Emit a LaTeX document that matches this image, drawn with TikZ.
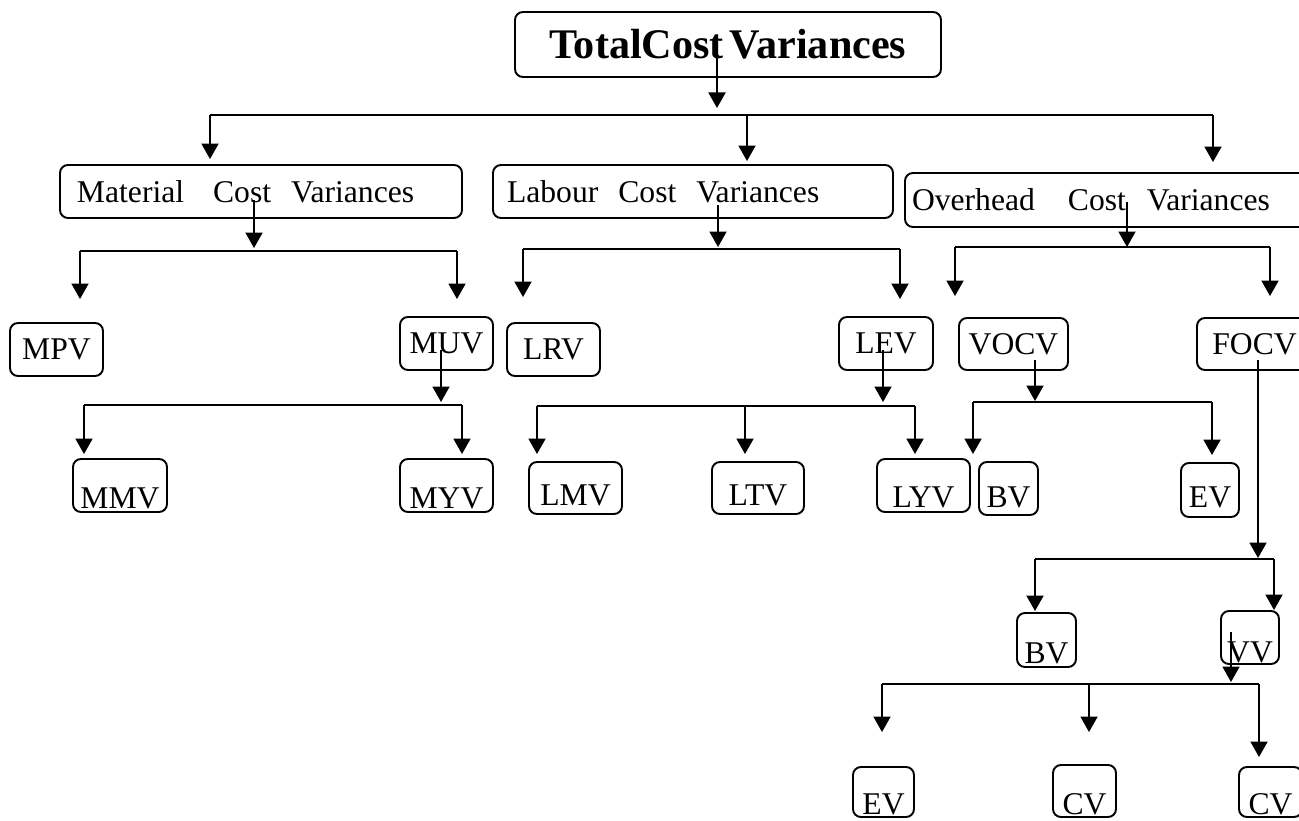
\documentclass[tikz,border=0pt]{standalone}
\usepackage{fontspec}
\setmainfont{Liberation Serif}
\usetikzlibrary{arrows.meta}
\tikzset{
  box/.style={draw, rounded corners=1.6mm, line width=1.1pt, inner sep=0pt, font=\fontsize{18}{20}\selectfont},
  cbox/.style={box, minimum height=10.6mm},
  lowbox/.style 2 args={box, text depth=0pt, inner ysep=#1, text height=#2},
  widebox/.style={box, align=left, minimum height=10.6mm},
}
\begin{document}
\begin{tikzpicture}[x=0.2mm, y=-0.2mm, line width=1.1pt, >={Triangle[width=3.4mm,length=3.1mm]}]
\useasboundingbox (0,0) rectangle (1299,821);

% top level
\node[box, minimum width=85.2mm, minimum height=13mm, font=\bfseries\fontsize{24}{28}\selectfont] (top) at (728,44.5) {TotalCost\hspace{1.2mm}Variances};
\node[widebox, text width=73.6mm, inner xsep=3.4mm] (mat) at (261,191.5) {Material\hspace{5.8mm}Cost\hspace{4mm}Variances};
\node[widebox, text width=74.4mm, inner xsep=2.8mm] (lab) at (693,191.5) {Labour\hspace{4mm}Cost\hspace{4mm}Variances};
\node[widebox, text width=80.2mm, inner xsep=1.4mm, minimum height=10.8mm] (ovh) at (1112.5,200) {Overhead\hspace{6.6mm}Cost\hspace{4.2mm}Variances};

% second row
\node[cbox, minimum width=18.6mm] (mpv) at (56.5,349.5) {MPV};
\node[cbox, minimum width=18.6mm] (muv) at (446.5,343.5) {MUV};
\node[cbox, minimum width=18.6mm] (lrv) at (553.5,349.5) {LRV};
\node[cbox, minimum width=18.8mm] (lev) at (886,343.5) {LEV};
\node[cbox, minimum width=21.8mm, minimum height=10.4mm] (vocv) at (1013.5,344) {VOCV};
\node[cbox, minimum width=23mm, minimum height=10.4mm] (focv) at (1254.5,344) {FOCV};

% third row
\node[lowbox={0.8mm}{9mm}, minimum width=18.8mm] (mmv) at (120,485.5) {MMV};
\node[lowbox={0.8mm}{9mm}, minimum width=18.6mm] (myv) at (446.5,485.5) {MYV};
\node[lowbox={1.8mm}{6.8mm}, minimum width=18.6mm] (lmv) at (575.5,488) {LMV};
\node[lowbox={1.8mm}{6.8mm}, minimum width=18.4mm] (ltv) at (758,488) {LTV};
\node[lowbox={1mm}{8.6mm}, minimum width=18.6mm] (lyv) at (923.5,485.5) {LYV};
\node[lowbox={1.6mm}{7.4mm}, minimum width=11.8mm] (bv) at (1008.5,488.5) {BV};
\node[lowbox={2mm}{6.8mm}, minimum width=11.6mm] (ev) at (1210,490) {EV};

% fixed overhead
\node[lowbox={0.8mm}{9.2mm}, minimum width=11.8mm] (bv2) at (1046.5,640) {BV};
\node[lowbox={0.4mm}{9.8mm}, minimum width=11.6mm] (vv) at (1250,637.5) {VV};
\node[lowbox={0.5mm}{9mm}, minimum width=12.2mm] (ev2) at (883.5,792) {EV};
\node[lowbox={0.5mm}{9.4mm}, minimum width=12.6mm] (cv1) at (1084.5,791) {CV};
\node[lowbox={0.5mm}{9mm}, minimum width=12.6mm] (cv2) at (1270.5,792) {CV};

% where the arrows leave each box
\coordinate (tout) at (717,58);
\coordinate (mout) at (254,200);
\coordinate (lout) at (718,205);
\coordinate (oout) at (1127,202);
\coordinate (uout) at (441,350);
\coordinate (eout) at (883,350);
\coordinate (vout) at (1035,360);
\coordinate (fout) at (1258,360);
\coordinate (wout) at (1231,632);

% branch lines
\coordinate (t1) at (210,115); \coordinate (t2) at (747,115); \coordinate (t3) at (1213,115);
\coordinate (m1) at (80,251);  \coordinate (m2) at (457,251);
\coordinate (l1) at (523,249); \coordinate (l2) at (900,249);
\coordinate (o1) at (955,247); \coordinate (o2) at (1270,247);
\coordinate (u1) at (84,405);  \coordinate (u2) at (462,405);
\coordinate (e1) at (537,406); \coordinate (e2) at (745,406); \coordinate (e3) at (915,406);
\coordinate (v1) at (973,402); \coordinate (v2) at (1212,402);
\coordinate (f1) at (1035,559); \coordinate (f2) at (1274,559);
\coordinate (w1) at (882,684); \coordinate (w2) at (1089,684); \coordinate (w3) at (1259,684);

\foreach \a/\b in {t1/t3, m1/m2, l1/l2, o1/o2, u1/u2, e1/e3, v1/v2, f1/f2, w1/w3}
  \draw (\a) -- (\b);

\foreach \p/\b/\g in {tout/t2/7, mout/m1/3, lout/l1/2, oout/o1/0, uout/u1/3, eout/e1/4, vout/v1/1, fout/f1/1, wout/w1/2}
  \draw[->, shorten >=\g*0.2mm] (\p) -- (\p |- \b);

\foreach \b/\c/\g in {t1/mat/5, t2/lab/3, t3/ovh/10, m1/mpv/23, m2/muv/17, l1/lrv/25, l2/lev/17,
  o1/vocv/21, o2/focv/21, u1/mmv/4, u2/myv/4, e1/lmv/7, e2/ltv/7, e3/lyv/4, v1/bv/7, v2/ev/7,
  f1/bv2/1, f2/vv/0, w1/ev2/34, w2/cv1/32, w3/cv2/9}
  \draw[->, shorten >=\g*0.2mm] (\b) -- (\b |- \c.north);
\end{tikzpicture}
\end{document}
